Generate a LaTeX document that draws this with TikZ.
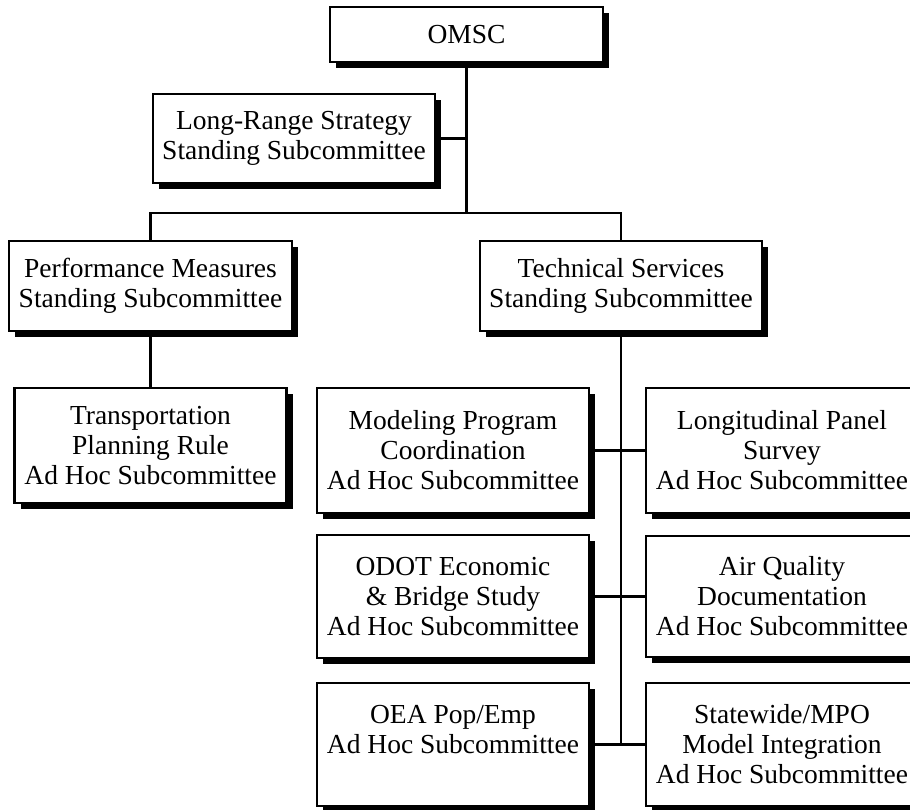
\documentclass[tikz,border=0pt]{standalone}
\usepackage{fontspec}
\setmainfont{Liberation Serif}
\usetikzlibrary{shadows}
\begin{document}
\begin{tikzpicture}[x=1pt,y=-1pt,
  orgbox/.style={draw, line width=2.2pt, fill=white, align=center, inner sep=0pt,
    font=\fontsize{27.5}{30}\selectfont, minimum width=272pt,
    drop shadow={shadow xshift=6pt, shadow yshift=-6pt, fill=black, opacity=1}},
  link/.style={line width=2.2pt}]
\clip (0,0) rectangle (910,810);
\fill[white] (0,0) rectangle (910,810);

\node[orgbox, minimum width=273pt, minimum height=55pt] (omsc) at (466.5,34.5) {OMSC};
\node[orgbox, minimum width=282pt, minimum height=89pt] (lrs) at (294,138.5) {Long-Range Strategy\\Standing Subcommittee};
\node[orgbox, minimum width=283pt, minimum height=90pt] (pm) at (150.5,286) {Performance Measures\\Standing Subcommittee};
\node[orgbox, minimum width=282pt, minimum height=90pt] (ts) at (621,286) {Technical Services\\Standing Subcommittee};
\node[orgbox, minimum height=115pt] (tpr) at (150.5,445.5) {Transportation\\Planning Rule\\Ad Hoc Subcommittee};
\node[orgbox, minimum height=125pt] (mpc) at (453,450.5) {Modeling Program\\Coordination\\Ad Hoc Subcommittee};
\node[orgbox, minimum height=125pt] (lps) at (782,450.5) {Longitudinal Panel\\Survey\\Ad Hoc Subcommittee};
\node[orgbox, minimum height=123pt] (odot) at (453,596.5) {ODOT Economic\\\& Bridge Study\\Ad Hoc Subcommittee};
\node[orgbox, minimum height=121pt] (aq) at (782,596.5) {Air Quality\\Documentation\\Ad Hoc Subcommittee};
\node[orgbox, minimum height=123pt] (oea) at (453,744.5) {OEA Pop/Emp\\Ad Hoc Subcommittee\\\mbox{}};
\node[orgbox, minimum height=123pt] (smi) at (782,744.5) {Statewide/MPO\\Model Integration\\Ad Hoc Subcommittee};

\coordinate (j1) at (omsc.south |- 0,213);
\coordinate (jl) at (pm.north |- 0,213);
\coordinate (jr) at (ts.north |- 0,213);
\coordinate (jlrs) at (omsc.south |- lrs.east);
\coordinate (t1) at (ts.south |- mpc.east);
\coordinate (t2) at (ts.south |- odot.east);
\coordinate (t3) at (ts.south |- oea.east);

\draw[link] (omsc.south) -- (j1);
\draw[link] (lrs.east) -- (jlrs);
\draw[link] (pm.north) -- (jl) -- (jr) -- (ts.north);
\draw[link] (pm.south) -- (tpr.north);
\draw[link] (ts.south) -- (t3);
\draw[link] (mpc.east) -- (t1) -- (lps.west);
\draw[link] (odot.east) -- (t2) -- (aq.west);
\draw[link] (oea.east) -- (t3) -- (smi.west);
\end{tikzpicture}
\end{document}
